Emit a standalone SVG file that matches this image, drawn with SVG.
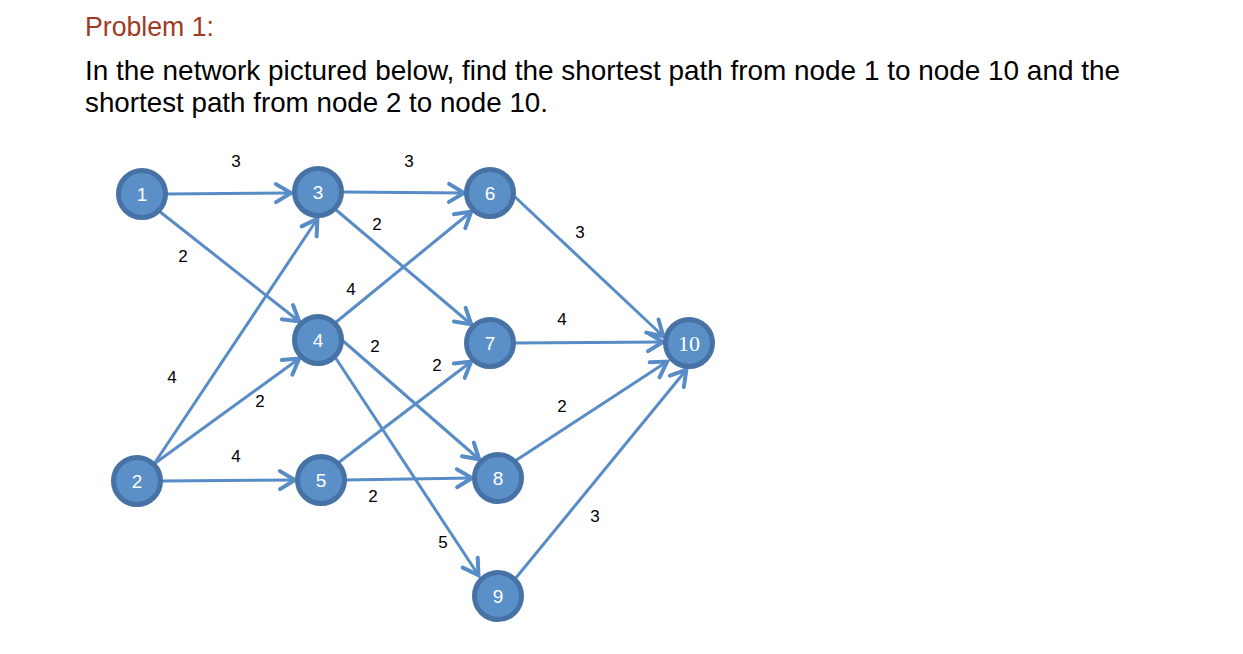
<svg xmlns="http://www.w3.org/2000/svg" width="1243" height="654" viewBox="0 0 1243 654">
<style>
.title{font-family:"Liberation Sans",Arial,sans-serif;font-size:28px;fill:#9e3b24}
.body{font-family:"Liberation Sans",Arial,sans-serif;font-size:28px;fill:#000}
.edge{stroke:#588cc6;stroke-width:3;fill:none;marker-end:url(#arr)}
.node circle{fill:#5b8fc7;stroke:#4672a5;stroke-width:5}
.node text{font-family:"Liberation Sans",Arial,sans-serif;font-size:19px;fill:#fff;text-anchor:middle}
.node text.serif{font-family:"Liberation Serif","Times New Roman",serif;font-size:22px}
.lbl{font-family:"Liberation Sans",Arial,sans-serif;font-size:17px;fill:#000;text-anchor:middle}
</style>
<defs>
<marker id="arr" markerUnits="userSpaceOnUse" orient="auto" refX="1" refY="0" markerWidth="20" markerHeight="20" overflow="visible">
<path d="M-15,-9 L0,0 L-15,9" fill="none" stroke="#588cc6" stroke-width="4" stroke-linecap="round" stroke-linejoin="miter"/>
</marker>
</defs>
<rect width="1243" height="654" fill="#fff"/>
<text class="title" x="85" y="36" textLength="129" lengthAdjust="spacingAndGlyphs">Problem 1:</text>
<text class="body" x="85" y="80" textLength="1035" lengthAdjust="spacingAndGlyphs">In the network pictured below, find the shortest path from node 1 to node 10 and the</text>
<text class="body" x="85" y="112" textLength="463" lengthAdjust="spacingAndGlyphs">shortest path from node 2 to node 10.</text>
<g id="connectors">
<line class="edge" x1="166" y1="194" x2="292" y2="193"/>
<line class="edge" x1="159" y1="211" x2="300" y2="322"/>
<line class="edge" x1="154" y1="464" x2="318" y2="218"/>
<line class="edge" x1="154" y1="464" x2="300" y2="358"/>
<line class="edge" x1="161" y1="481" x2="296" y2="480"/>
<line class="edge" x1="342" y1="192" x2="465" y2="193"/>
<line class="edge" x1="335" y1="209" x2="472" y2="325"/>
<line class="edge" x1="335" y1="323" x2="472" y2="211"/>
<line class="edge" x1="342" y1="340" x2="480" y2="460"/>
<line class="edge" x1="335" y1="357" x2="479" y2="576"/>
<line class="edge" x1="338" y1="463" x2="472" y2="361"/>
<line class="edge" x1="345" y1="480" x2="473" y2="478"/>
<line class="edge" x1="514" y1="196" x2="664" y2="337"/>
<line class="edge" x1="514" y1="343" x2="664" y2="342"/>
<line class="edge" x1="515" y1="461" x2="668" y2="361"/>
<line class="edge" x1="515" y1="579" x2="687" y2="369"/>
<text class="lbl" x="236" y="167">3</text>
<text class="lbl" x="409" y="167">3</text>
<text class="lbl" x="183" y="262">2</text>
<text class="lbl" x="377" y="230">2</text>
<text class="lbl" x="580" y="238">3</text>
<text class="lbl" x="351" y="295">4</text>
<text class="lbl" x="375" y="352">2</text>
<text class="lbl" x="562" y="325">4</text>
<text class="lbl" x="172" y="383">4</text>
<text class="lbl" x="437" y="371">2</text>
<text class="lbl" x="260" y="407">2</text>
<text class="lbl" x="562" y="412">2</text>
<text class="lbl" x="236" y="462">4</text>
<text class="lbl" x="373" y="502">2</text>
<text class="lbl" x="443" y="548">5</text>
<text class="lbl" x="595" y="522">3</text>
</g>
<g id="node1" class="node"><circle cx="142" cy="194" r="23.5"/><text x="142" y="201">1</text></g>
<g id="node2" class="node"><circle cx="137" cy="481" r="23.5"/><text x="137" y="488">2</text></g>
<g id="node3" class="node"><circle cx="318" cy="192" r="23.5"/><text x="318" y="199">3</text></g>
<g id="node4" class="node"><circle cx="318" cy="340" r="23.5"/><text x="318" y="347">4</text></g>
<g id="node5" class="node"><circle cx="321" cy="480" r="23.5"/><text x="321" y="487">5</text></g>
<g id="node6" class="node"><circle cx="490" cy="193" r="23.5"/><text x="490" y="200">6</text></g>
<g id="node7" class="node"><circle cx="490" cy="343" r="23.5"/><text x="490" y="350">7</text></g>
<g id="node8" class="node"><circle cx="498" cy="478" r="23.5"/><text x="498" y="485">8</text></g>
<g id="node9" class="node"><circle cx="498" cy="596" r="23.5"/><text x="498" y="603">9</text></g>
<g id="node10" class="node"><circle cx="689" cy="343" r="23.5"/><text class="serif" x="689" y="351">10</text></g>
</svg>
